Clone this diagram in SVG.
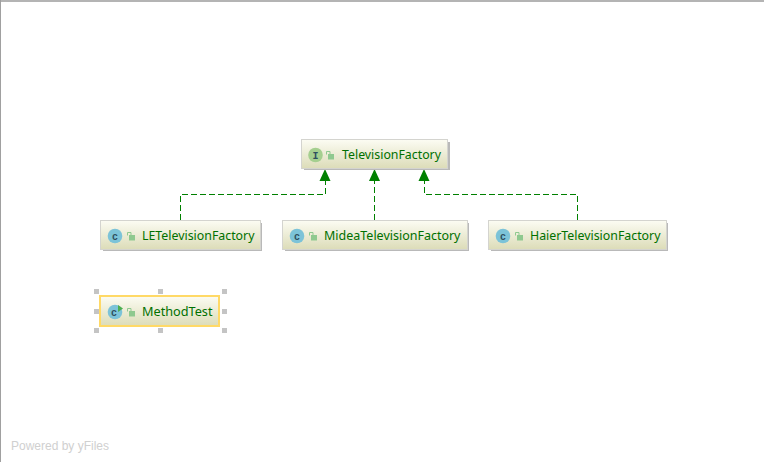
<svg xmlns="http://www.w3.org/2000/svg" width="764" height="462" viewBox="0 0 764 462">
<style>
.box{fill:url(#nodeFill);stroke:#d4d4cf;stroke-width:1}
.shadow{fill:#b9b9b9}
.label{font-family:"Noto Sans","Liberation Sans",Arial,sans-serif;font-size:13px;fill:#007000}
.edge{fill:none;stroke:#008000;stroke-width:1;stroke-dasharray:6 3}
.head{fill:#008000}
.cicon{fill:#7cc3d8}
.iicon{fill:#a5cf8f}
.ltr{font-family:"Liberation Mono",monospace;font-size:10px;font-weight:bold;text-anchor:middle;fill:#2f4f5f}
.lock{fill:#8fc98f}
.hnd{fill:#c4c4c4}
</style>
<defs>
<linearGradient id="nodeFill" x1="0" y1="0" x2="0" y2="1">
<stop offset="0" stop-color="#fcfcf3"/>
<stop offset="1" stop-color="#dcdcb8"/>
</linearGradient>
<g id="lk">
<rect x="2" y="3" width="6" height="5.500" class="lock"/>
<path d="M0.500 3.500V0.500H4V3" fill="none" stroke="#8fc98f" stroke-width="1"/>
</g>
</defs>
<rect x="0" y="0" width="764" height="462" fill="#ffffff"/>
<rect x="0" y="0" width="764" height="2" fill="#b4b4b4"/>
<rect x="0" y="0" width="1" height="462" fill="#a0a0a0"/>
<g id="connectors">
<path class="edge" d="M180.500 220V194.500H325.500V180"/>
<path class="edge" d="M374.500 220V180"/>
<path class="edge" d="M577.500 220V194.500H424.500V180"/>
<path class="head" d="M325 169L319.500 181H330.500Z"/>
<path class="head" d="M374.500 169L369 181H380Z"/>
<path class="head" d="M424 169L418.500 181H429.500Z"/>
</g>
<g id="node-TelevisionFactory">
<rect class="shadow" x="304" y="142" width="146" height="28"/>
<rect class="box" x="301.500" y="139.500" width="146" height="29"/>
<circle class="iicon" cx="315.500" cy="155" r="7.300"/>
<text class="ltr" x="315.500" y="158.500">I</text>
<use href="#lk" x="326" y="151"/>
<text class="label" x="342" y="159" textLength="99" lengthAdjust="spacingAndGlyphs">TelevisionFactory</text>
</g>
<g id="node-LETelevisionFactory">
<rect class="shadow" x="103" y="223" width="159" height="28"/>
<rect class="box" x="100.500" y="220.500" width="160" height="29"/>
<circle class="cicon" cx="115" cy="236" r="7.300"/>
<text class="ltr" x="115" y="239.500">c</text>
<use href="#lk" x="127" y="232"/>
<text class="label" x="142" y="240" textLength="112.500" lengthAdjust="spacingAndGlyphs">LETelevisionFactory</text>
</g>
<g id="node-MideaTelevisionFactory">
<rect class="shadow" x="285" y="223" width="184" height="28"/>
<rect class="box" x="282.500" y="220.500" width="185" height="29"/>
<circle class="cicon" cx="297" cy="236" r="7.300"/>
<text class="ltr" x="297" y="239.500">c</text>
<use href="#lk" x="309" y="232"/>
<text class="label" x="324" y="240" textLength="136.500" lengthAdjust="spacingAndGlyphs">MideaTelevisionFactory</text>
</g>
<g id="node-HaierTelevisionFactory">
<rect class="shadow" x="491" y="223" width="177" height="28"/>
<rect class="box" x="488.500" y="220.500" width="178" height="29"/>
<circle class="cicon" cx="503" cy="236" r="7.300"/>
<text class="ltr" x="503" y="239.500">c</text>
<use href="#lk" x="515" y="232"/>
<text class="label" x="530" y="240" textLength="130.500" lengthAdjust="spacingAndGlyphs">HaierTelevisionFactory</text>
</g>
<g id="node-MethodTest">
<rect class="box" x="100" y="296" width="119" height="30" style="stroke:#ffd966;stroke-width:2"/>
<circle class="cicon" cx="115" cy="312" r="7.300"/>
<text class="ltr" x="114" y="315.500">c</text>
<path d="M118 305L123 308.500L118 312Z" fill="#4caf50"/>
<use href="#lk" x="127" y="308"/>
<text class="label" x="142" y="316" textLength="70.500" lengthAdjust="spacingAndGlyphs">MethodTest</text>
<rect class="hnd" x="94" y="289" width="5" height="5"/>
<rect class="hnd" x="158" y="289" width="5" height="5"/>
<rect class="hnd" x="222" y="289" width="5" height="5"/>
<rect class="hnd" x="94" y="309" width="5" height="5"/>
<rect class="hnd" x="222" y="309" width="5" height="5"/>
<rect class="hnd" x="94" y="328" width="5" height="5"/>
<rect class="hnd" x="158" y="328" width="5" height="5"/>
<rect class="hnd" x="222" y="328" width="5" height="5"/>
</g>
<text x="11" y="450" style="font-family:'Liberation Sans',Arial,sans-serif;font-size:12px;fill:#d0d0d0">Powered by yFiles</text>
</svg>
